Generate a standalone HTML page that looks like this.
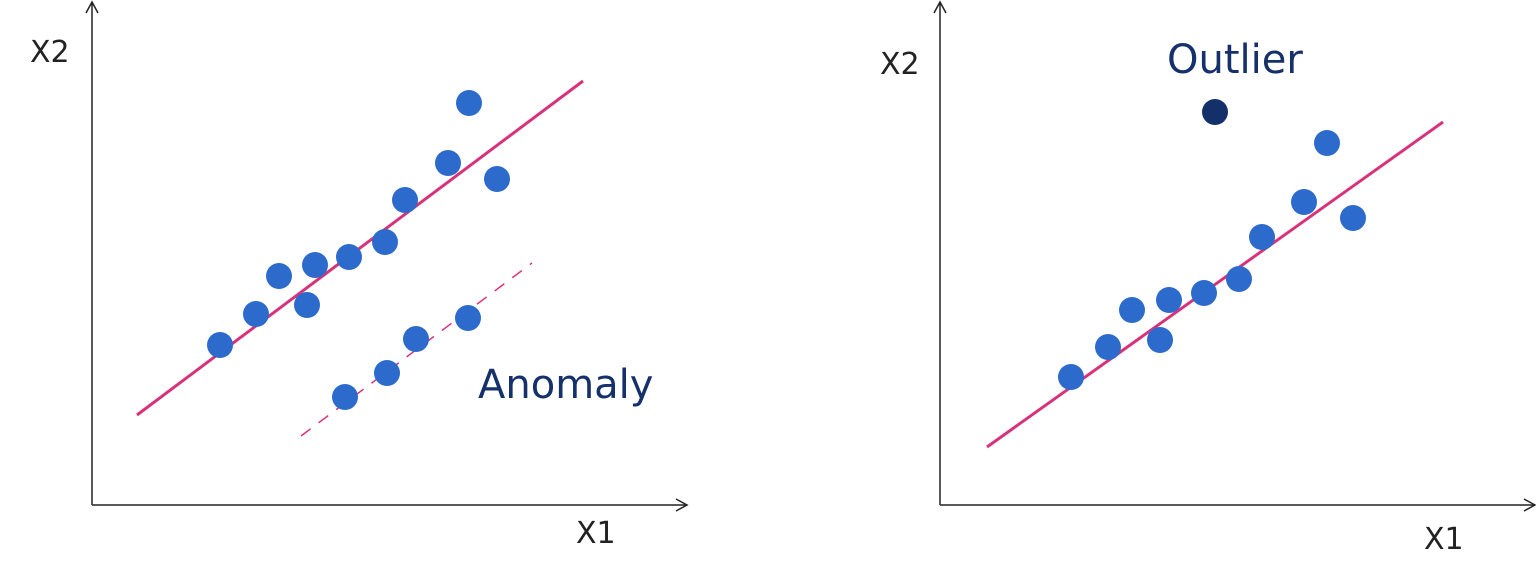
<!DOCTYPE html>
<html><head><meta charset="utf-8"><style>
html,body{margin:0;padding:0;background:#fff;}
svg{display:block;}
text{font-family:"DejaVu Sans","Liberation Sans",sans-serif;}
</style></head><body>
<svg id="chart" width="1536" height="578" viewBox="0 0 1536 578">
<defs>
<marker id="arr" markerWidth="14" markerHeight="14" refX="12" refY="7" orient="auto" markerUnits="userSpaceOnUse">
<path d="M1,1 L12,7 L1,13" fill="none" stroke="#222" stroke-width="1.5"/>
</marker>
</defs>
</svg>
<script>
// Left panel data
const leftPointsX=[25.6,32.8,37.4,43,44.6,51.4,58.6,62.6,71.2,75.4,81];
const leftPointsY=[32,38.2,45.8,40,48,49.6,52.6,61,68.4,80.4,65.2];
const anomalyX=[50.6,59,64.8,75.2];
const anomalyY=[21.6,26.4,33.2,37.4];
const leftLineX=[9,98.2];
const leftLineY=[18,84.8];
const dashLineX=[41.8,88];
const dashLineY=[13.8,48.4];
// Right panel data
const rightPointsX=[26.2,33.6,38.4,44,45.8,52.8,59.8,64.4,72.8,77.4,82.6];
const rightPointsY=[25.6,31.6,39,33,41,42.4,45.2,53.6,60.6,72.4,57.4];
const outlierX=[55];
const outlierY=[78.6];
const rightLineX=[9.4,100.6];
const rightLineY=[11.6,76.6];

const NS="http://www.w3.org/2000/svg";
const svg=document.getElementById('chart');
function mk(tag,attrs,parent){const e=document.createElementNS(NS,tag);for(const k in attrs)e.setAttribute(k,attrs[k]);(parent||svg).appendChild(e);return e;}
function panel(ox,oy,name){
  const g=mk('g',{});
  
  
  return {g,x:v=>ox+v*5,y:v=>oy-v*5,ox,oy};
}
function axes(p,xEnd,yTop,x2pos,x1pos){
  const ya=mk('line',{x1:p.ox,y1:p.oy,x2:p.ox,y2:yTop,stroke:'#222','stroke-width':1.5,'marker-end':'url(#arr)'},p.g);
  
  
  const xa=mk('line',{x1:p.ox,y1:p.oy,x2:xEnd,y2:p.oy,stroke:'#222','stroke-width':1.5,'marker-end':'url(#arr)'},p.g);
  
  
  const t2=mk('text',{x:x2pos[0],y:x2pos[1],'font-size':30,fill:'#222'},p.g);t2.textContent='X2';
  
  
  const t1=mk('text',{x:x1pos[0],y:x1pos[1],'font-size':30,fill:'#222'},p.g);t1.textContent='X1';
  
  
}
function line(p,xs,ys,dash,name){
  const a={x1:p.x(xs[0]),y1:p.y(ys[0]),x2:p.x(xs[1]),y2:p.y(ys[1]),stroke:'#d6337a','stroke-width':dash?1.5:3};
  if(dash)a['stroke-dasharray']='12 10';
  const l=mk('line',a,p.g);
  
  
}
function points(p,xs,ys,color,name){
  xs.forEach((v,i)=>{
    const c=mk('circle',{cx:p.x(v),cy:p.y(ys[i]),r:13,fill:color},p.g);
    
    
  });
}
const L=panel(92,505,'left-panel');
axes(L,687,2,[30,62],[576,543]);
line(L,leftLineX,leftLineY,false,'regression-line');
line(L,dashLineX,dashLineY,true,'anomaly-trend-line');
points(L,leftPointsX,leftPointsY,'#2c6bcc','data-point');
points(L,anomalyX,anomalyY,'#2c6bcc','anomaly-point');
const ta=mk('text',{x:478,y:398,'font-size':40,fill:'#15306b'},L.g);ta.textContent='Anomaly';



const R=panel(940,505,'right-panel');
axes(R,1535,2,[880,74],[1424,549]);
line(R,rightLineX,rightLineY,false,'regression-line');
points(R,rightPointsX,rightPointsY,'#2c6bcc','data-point');
points(R,outlierX,outlierY,'#13306b','outlier-point');
const to=mk('text',{x:1167,y:73,'font-size':40,fill:'#15306b'},R.g);to.textContent='Outlier';


</script>
</body></html>
